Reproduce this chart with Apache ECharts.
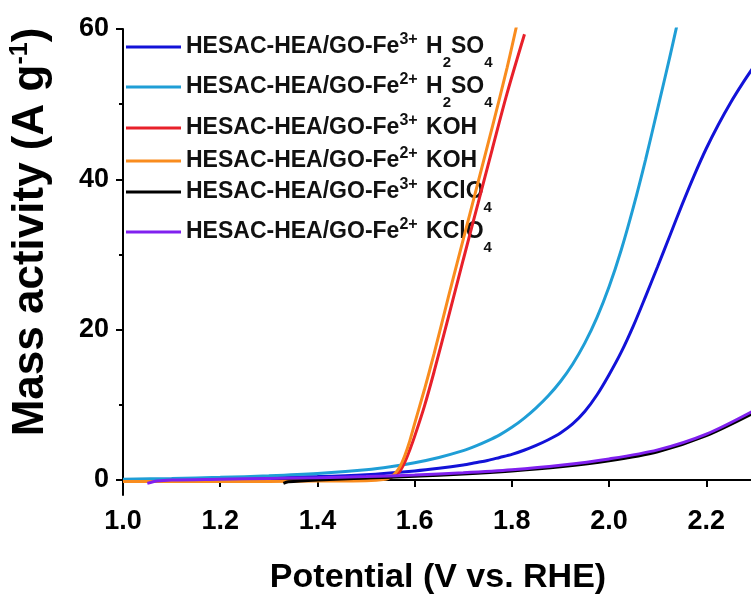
<!DOCTYPE html>
<html>
<head>
<meta charset="utf-8">
<script src="https://cdn.jsdelivr.net/npm/echarts@6/dist/echarts.min.js"></script>
<style>
html,body{margin:0;padding:0;background:#fff;}
#chart{width:751px;height:599px;}
</style>
</head>
<body>
<div id="chart"></div>
<script>
// ---------- data ----------
const seriesNames = [
  'HESAC-HEA/GO-Fe3+ H2SO4',
  'HESAC-HEA/GO-Fe2+ H2SO4',
  'HESAC-HEA/GO-Fe3+ KOH',
  'HESAC-HEA/GO-Fe2+ KOH',
  'HESAC-HEA/GO-Fe3+ KClO4',
  'HESAC-HEA/GO-Fe2+ KClO4'
];
const legendRich = [
  '{a|HESAC-HEA/GO-Fe}{sup|3+}{a| H}{sub|2}{a|SO}{sub|4}',
  '{a|HESAC-HEA/GO-Fe}{sup|2+}{a| H}{sub|2}{a|SO}{sub|4}',
  '{a|HESAC-HEA/GO-Fe}{sup|3+}{a| KOH}',
  '{a|HESAC-HEA/GO-Fe}{sup|2+}{a| KOH}',
  '{a|HESAC-HEA/GO-Fe}{sup|3+}{a| KClO}{sub|4}',
  '{a|HESAC-HEA/GO-Fe}{sup|2+}{a| KClO}{sub|4}'
];
const colors = ['#1212d8', '#1f9ed6', '#e8202a', '#f98c1e', '#000000', '#8020ef'];

const potFe3H2SO4 = [1.0, 1.2, 1.4, 1.5, 1.6, 1.65, 1.7, 1.725, 1.75, 1.775, 1.8, 1.825, 1.85, 1.875, 1.9, 1.925, 1.95, 1.975, 2.0, 2.025, 2.05, 2.075, 2.1, 2.125, 2.15, 2.175, 2.2, 2.225, 2.25, 2.275, 2.3];
const maFe3H2SO4  = [0.0, 0.15, 0.45, 0.7, 1.2, 1.55, 2.0, 2.3, 2.6, 3.0, 3.4, 3.95, 4.6, 5.35, 6.25, 7.45, 9.1, 11.3, 14.0, 17.0, 20.5, 24.4, 28.4, 32.5, 36.6, 40.5, 44.1, 47.3, 50.2, 52.8, 55.2];

const potFe2H2SO4 = [1.0, 1.1, 1.2, 1.3, 1.4, 1.5, 1.55, 1.6, 1.65, 1.7, 1.725, 1.75, 1.775, 1.8, 1.825, 1.85, 1.875, 1.9, 1.925, 1.95, 1.975, 2.0, 2.025, 2.05, 2.075, 2.1, 2.125, 2.14];
const maFe2H2SO4  = [0.1, 0.2, 0.35, 0.55, 0.85, 1.35, 1.75, 2.3, 3.0, 3.9, 4.5, 5.2, 6.0, 7.0, 8.2, 9.6, 11.2, 13.1, 15.4, 18.2, 21.6, 25.7, 30.6, 36.3, 42.6, 49.4, 56.3, 60.6];

const potFe3KOH = [1.55, 1.56, 1.57, 1.58, 1.59, 1.60, 1.62, 1.64, 1.67, 1.70, 1.73, 1.76, 1.79, 1.826];
const maFe3KOH  = [0.3, 0.6, 1.2, 2.4, 4.0, 5.8, 9.8, 14.4, 21.8, 29.3, 36.7, 44.1, 51.4, 59.3];

const potFe2KOH = [1.0, 1.1, 1.2, 1.3, 1.4, 1.5, 1.54, 1.55, 1.56, 1.57, 1.58, 1.59, 1.60, 1.62, 1.64, 1.67, 1.70, 1.73, 1.76, 1.79, 1.81];
const maFe2KOH  = [-0.2, -0.2, -0.2, -0.2, -0.15, -0.1, 0.1, 0.35, 0.9, 1.8, 3.3, 5.2, 7.5, 12.0, 16.8, 24.5, 32.0, 39.5, 47.0, 54.8, 60.5];

const potFe3KClO4 = [1.33, 1.34, 1.4, 1.5, 1.6, 1.7, 1.8, 1.9, 2.0, 2.1, 2.2, 2.3];
const maFe3KClO4  = [-0.45, -0.25, 0.0, 0.25, 0.5, 0.8, 1.2, 1.75, 2.55, 3.75, 5.9, 9.0];

const potFe2KClO4 = [1.05, 1.07, 1.1, 1.2, 1.3, 1.4, 1.5, 1.6, 1.7, 1.8, 1.9, 2.0, 2.1, 2.2, 2.3];
const maFe2KClO4  = [-0.45, -0.15, 0.0, 0.1, 0.2, 0.3, 0.45, 0.65, 0.95, 1.35, 1.95, 2.8, 4.0, 6.1, 9.3];

const xTicks = [1.0, 1.2, 1.4, 1.6, 1.8, 2.0, 2.2];
const yMajorTicks = [0, 20, 40, 60];
const yMinorTicks = [10, 30, 50];

// ---------- chart ----------
const allPot = [potFe3H2SO4, potFe2H2SO4, potFe3KOH, potFe2KOH, potFe3KClO4, potFe2KClO4];
const allMa  = [maFe3H2SO4, maFe2H2SO4, maFe3KOH, maFe2KOH, maFe3KClO4, maFe2KClO4];
const FONT = '"Liberation Sans", Arial, sans-serif';

const legendCenters = [47, 87, 127, 160, 192, 232];
const hasSub = [true, true, false, false, true, true];

const legends = seriesNames.map((n, i) => ({
  data: [{name: n, icon: 'rect', itemStyle: {color: colors[i]}}],
  orient: 'vertical',
  left: 126,
  top: legendCenters[i] - (hasSub[i] ? 23 : 14),
  padding: 0,
  itemWidth: 55,
  itemHeight: 3,
  selectedMode: false,
  formatter: () => legendRich[i],
  textStyle: {
    color: '#111',
    fontFamily: FONT,
    fontWeight: 'bold',
    rich: {
      a: {fontSize: 23, fontWeight: 'bold', fontFamily: FONT, color: '#111', lineHeight: 28},
      sup: {fontSize: 16, fontWeight: 'bold', fontFamily: FONT, color: '#111', lineHeight: 14, padding: [0, 2, 14, 0]},
      sub: {fontSize: 15, fontWeight: 'bold', fontFamily: FONT, color: '#111', lineHeight: 15, padding: [31, 0, 0, 0]}
    }
  }
}));

const series = seriesNames.map((n, i) => ({
  name: n,
  type: 'line',
  data: allPot[i].map((p, k) => [p, allMa[i][k]]),
  smooth: 0.3,
  symbol: 'none',
  showSymbol: false,
  clip: true,
  lineStyle: {color: colors[i], width: 3},
  itemStyle: {color: colors[i]},
  z: 2 + i
}));

const chart = echarts.init(document.getElementById('chart'), null, {renderer: 'canvas'});
chart.setOption({
  animation: false,
  backgroundColor: '#fff',
  grid: {left: 123, top: 29, right: 0, bottom: 104, show: false},
  legend: legends,
  xAxis: [{
    type: 'value', min: 1.0, max: 2.292,
    axisLine: {lineStyle: {color: '#000', width: 2}},
    axisTick: {length: 7, lineStyle: {color: '#000', width: 2}, customValues: xTicks},
    axisLabel: {color: '#000', fontSize: 27, fontWeight: 'bold', fontFamily: FONT, margin: 13,
      customValues: xTicks, formatter: v => v.toFixed(1)},
    splitLine: {show: false}
  }, {
    type: 'value', min: 1.0, max: 2.292, position: 'top',
    axisLine: {show: true, lineStyle: {color: '#000', width: 2}},
    axisTick: {show: false},
    axisLabel: {show: false},
    splitLine: {show: false}
  }],
  yAxis: [{
    type: 'value', min: -2, max: 60,
    axisLine: {show: true, lineStyle: {color: '#000', width: 2}},
    axisTick: {show: true, length: 7, lineStyle: {color: '#000', width: 2}, customValues: yMajorTicks},
    axisLabel: {color: '#000', fontSize: 27, fontWeight: 'bold', fontFamily: FONT, margin: 14, customValues: yMajorTicks},
    splitLine: {show: false}
  }, {
    type: 'value', min: -2, max: 60, position: 'left',
    axisLine: {show: false},
    axisTick: {show: true, length: 4, lineStyle: {color: '#000', width: 2}, customValues: yMinorTicks},
    axisLabel: {show: false},
    splitLine: {show: false}
  }],
  graphic: [{
    type: 'text', x: 31, y: 232, rotation: Math.PI / 2,
    style: {
      text: '{t|Mass activity (A g}{s|-1}{t|)}',
      align: 'center', verticalAlign: 'middle',
      rich: {
        t: {fontSize: 44, fontWeight: 'bold', fontFamily: FONT, fill: '#000', lineHeight: 50},
        s: {fontSize: 25, fontWeight: 'bold', fontFamily: FONT, fill: '#000', lineHeight: 25, padding: [0, 0, 21, 0]}
      }
    }
  }, {
    type: 'text', x: 438, y: 578,
    style: {
      text: 'Potential (V vs. RHE)',
      fontSize: 34, fontWeight: 'bold', fontFamily: FONT, fill: '#000',
      align: 'center', verticalAlign: 'middle'
    }
  }],
  series: series
});
</script>
</body>
</html>
